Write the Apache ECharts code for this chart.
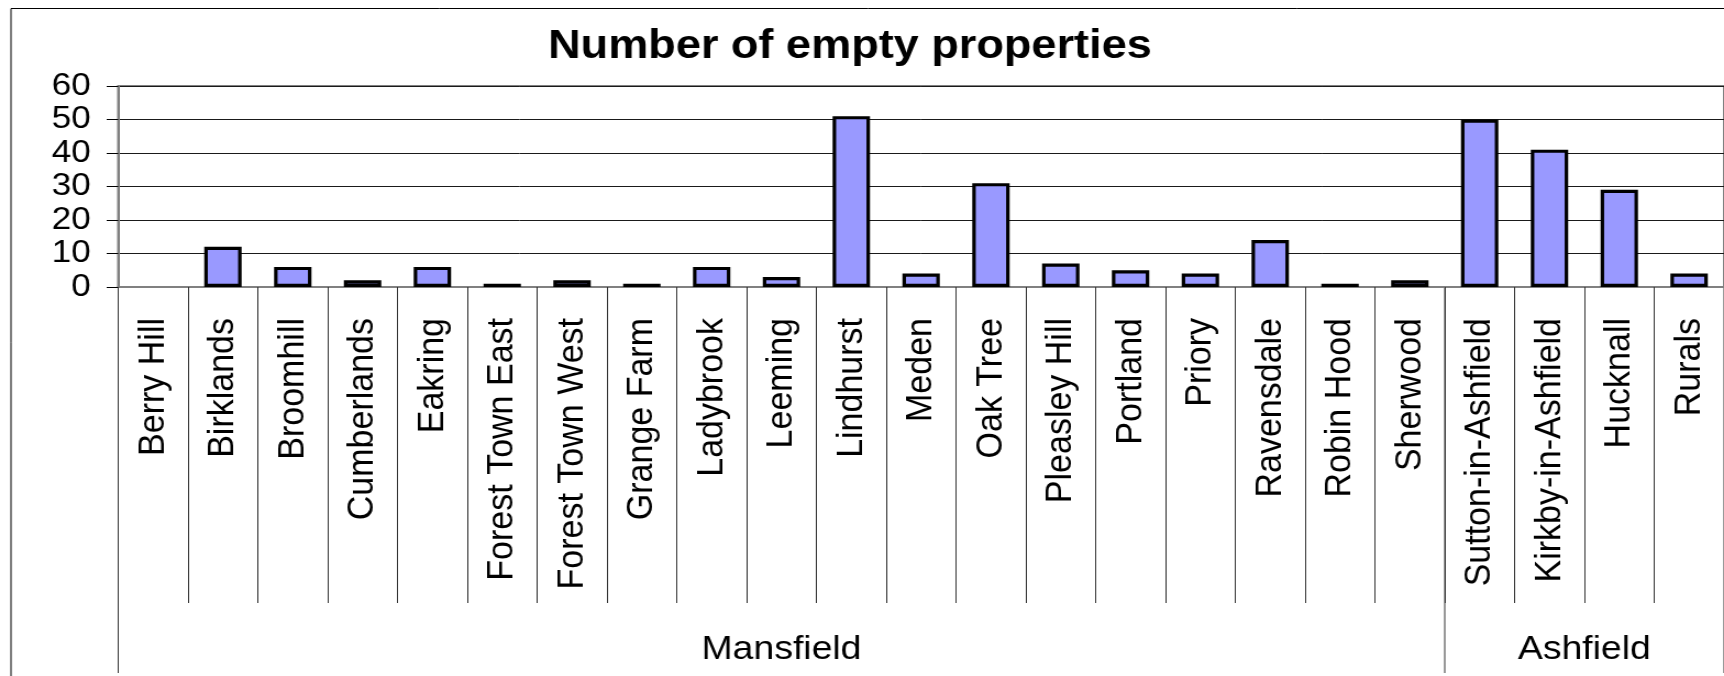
<!DOCTYPE html>
<html><head><meta charset="utf-8">
<script src="https://cdn.jsdelivr.net/npm/echarts@6/dist/echarts.min.js"></script>
<style>
html,body{margin:0;padding:0;background:#fff;overflow:hidden;}
#wrap{width:1724px;height:676px;overflow:hidden;position:relative;background:#fff;}
#chart{width:1568px;height:676px;transform:scaleX(1.0995);transform-origin:0 0;}
</style></head><body><div id="wrap"><div id="chart"></div></div>
<script>
// ---- data ----
const titleText = 'Number of empty properties';
const categories = ['Berry Hill','Birklands','Broomhill','Cumberlands','Eakring','Forest Town East','Forest Town West','Grange Farm','Ladybrook','Leeming','Lindhurst','Meden','Oak Tree','Pleasley Hill','Portland','Priory','Ravensdale','Robin Hood','Sherwood','Sutton-in-Ashfield','Kirkby-in-Ashfield','Hucknall','Rurals'];
const values = [0,12,6,2,6,1,2,1,6,3,51,4,31,7,5,4,14,1,2,50,41,29,4];
const groupNames = ['Mansfield','Ashfield'];
const groupSizes = [19,4];
const yMin = 0, yMax = 60, yStep = 10;

const FONT = "'Liberation Sans', Arial, sans-serif";
const chart = echarts.init(document.getElementById('chart'), null, {renderer:'canvas'});
const barData = values.map(v => v === 0 ? {value:v, itemStyle:{borderWidth:0}} : v);
const option = {
  animation:false,
  backgroundColor:'#fff',
  title:{text:titleText,left:768,top:21,textAlign:'center',
    textStyle:{fontSize:41,fontWeight:'bold',color:'#000',fontFamily:FONT}},
  grid:{left:107.5,top:86,width:1461,height:201,show:true,borderColor:'#808080',borderWidth:2,backgroundColor:'transparent'},
  xAxis:{type:'category',data:categories,boundaryGap:true,
    axisLine:{show:true,lineStyle:{color:'#808080',width:2}},
    axisTick:{show:true,interval:0,length:316,lineStyle:{color:'#333',width:1}},
    axisLabel:{interval:0,rotate:90,margin:31,fontSize:34,color:'#000',fontFamily:FONT},
    splitLine:{show:false}},
  yAxis:{type:'value',min:yMin,max:yMax,interval:yStep,
    axisLine:{show:true,lineStyle:{color:'#808080',width:2}},
    axisTick:{show:true,length:10.5,lineStyle:{color:'#000',width:1}},
    axisLabel:{fontSize:32,color:'#000',margin:25,fontFamily:FONT},
    splitLine:{show:true,lineStyle:{color:'#1a1a1a',width:1}}},
  series:[{type:'bar',data:barData,barWidth:34,
    itemStyle:{color:'#9999FF',borderColor:'#000',borderWidth:3.2}}]
};
chart.setOption(option);

// group separators and labels through the category scale
const c0 = chart.convertToPixel({xAxisIndex:0}, categories[0]);
const c1 = chart.convertToPixel({xAxisIndex:0}, categories[1]);
const band = c1 - c0;
const y0 = chart.convertToPixel({yAxisIndex:0}, 0);
const graphics = [{type:'rect',shape:{x:10,y:8.5,width:3000,height:3000},style:{fill:'none',stroke:'#000',lineWidth:1},silent:true}];
let start = 0;
const boundaries = [0];
groupSizes.forEach((n,gi)=>{
  const xs = chart.convertToPixel({xAxisIndex:0}, categories[start]) - band/2;
  const xe = xs + n*band;
  boundaries.push(start+n);
  graphics.push({type:'text',x:(xs+xe)/2,y:650,style:{text:groupNames[gi],font:'34px '+FONT,fill:'#000',textAlign:'center',textVerticalAlign:'middle'},silent:true});
  start += n;
});
boundaries.forEach(b=>{
  const x = c0 - band/2 + b*band;
  graphics.push({type:'line',shape:{x1:x,y1:y0,x2:x,y2:673},style:{stroke:'#333',lineWidth:1},silent:true});
});
chart.setOption({graphic:graphics});
</script></body></html>
